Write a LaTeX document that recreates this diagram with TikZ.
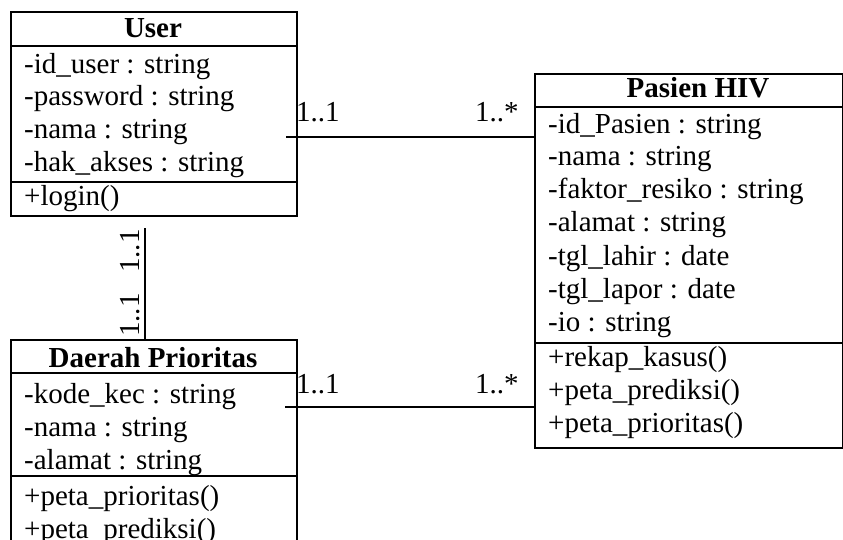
\documentclass[tikz,border=0pt]{standalone}
\usepackage{fontspec}
\setmainfont{Liberation Serif}
\begin{document}
\begin{tikzpicture}[x=1pt,y=-1pt,
  box/.style={draw, line width=1.8pt, inner sep=0pt, anchor=north west},
  sep/.style={line width=1.8pt},
  txt/.style={anchor=base west, inner sep=0pt, font=\fontsize{29}{33}\selectfont},
  ttl/.style={anchor=base, inner sep=0pt, font=\fontsize{29}{33}\selectfont\bfseries},
  link/.style={line width=1.8pt},
  mult/.style={anchor=base west, inner sep=0pt, font=\fontsize{29}{33}\selectfont}]
\useasboundingbox (0,0) rectangle (843,540);
\clip (0,0) rectangle (843,540);

% ---- class User ----
\node[box, minimum width=286pt, minimum height=204pt] (user) at (10,11) {};
\draw[sep] (10,46) -- (296,46);
\draw[sep] (10,182) -- (296,182);
\node[ttl] (userT) at (153,38) {User};
\node[txt] (u1) at (24,74) {-id\_user : string};
\node[txt] (u2) at (24,106) {-password : string};
\node[txt] (u3) at (24,139) {-nama : string};
\node[txt] (u4) at (24,172) {-hak\_akses : string};
\node[txt] (u5) at (24,205) {+login()};

% ---- class Pasien HIV ----
\node[box, minimum width=308pt, minimum height=374pt] (pasien) at (534,73) {};
\draw[sep] (534,107) -- (842,107);
\draw[sep] (534,343) -- (842,343);
\node[ttl] (pT) at (698,98) {Pasien HIV};
\node[txt] (p1) at (548,134) {-id\_Pasien : string};
\node[txt] (p2) at (548,166) {-nama : string};
\node[txt] (p3) at (548,199) {-faktor\_resiko : string};
\node[txt] (p4) at (548,232) {-alamat : string};
\node[txt] (p5) at (548,265) {-tgl\_lahir : date};
\node[txt] (p6) at (548,298) {-tgl\_lapor : date};
\node[txt] (p7) at (548,331) {-io : string};
\node[txt] (p8) at (548,366) {+rekap\_kasus()};
\node[txt] (p9) at (548,399) {+peta\_prediksi()};
\node[txt] (p10) at (548,432) {+peta\_prioritas()};

% ---- class Daerah Prioritas ----
\node[box, minimum width=286pt, minimum height=230pt] (daerah) at (10,339) {};
\draw[sep] (10,373) -- (296,373);
\draw[sep] (10,476) -- (296,476);
\node[ttl] (dT) at (153,367) {Daerah Prioritas};
\node[txt] (d1) at (24,403) {-kode\_kec : string};
\node[txt] (d2) at (24,436) {-nama : string};
\node[txt] (d3) at (24,469) {-alamat : string};
\node[txt] (d4) at (24,505) {+peta\_prioritas()};
\node[txt] (d5) at (24,538) {+peta\_prediksi()};

% ---- associations ----
\coordinate (a1) at (286,137);
\draw[link] (a1) -- (a1 -| pasien.west);
\node[mult] (m1) at (296,122) {1..1};
\node[mult] (m2) at (475,122) {1..*};

\coordinate (a2) at (285,407);
\draw[link] (a2) -- (a2 -| pasien.west);
\node[mult] (m3) at (296,393) {1..1};
\node[mult] (m4) at (475,393) {1..*};

\coordinate (a3) at (145,228);
\draw[link] (a3) -- (a3 |- daerah.north);
\node[mult, rotate=90] (m5) at (139,273) {1..1};
\node[mult, rotate=90] (m6) at (139,337) {1..1};
\end{tikzpicture}
\end{document}
